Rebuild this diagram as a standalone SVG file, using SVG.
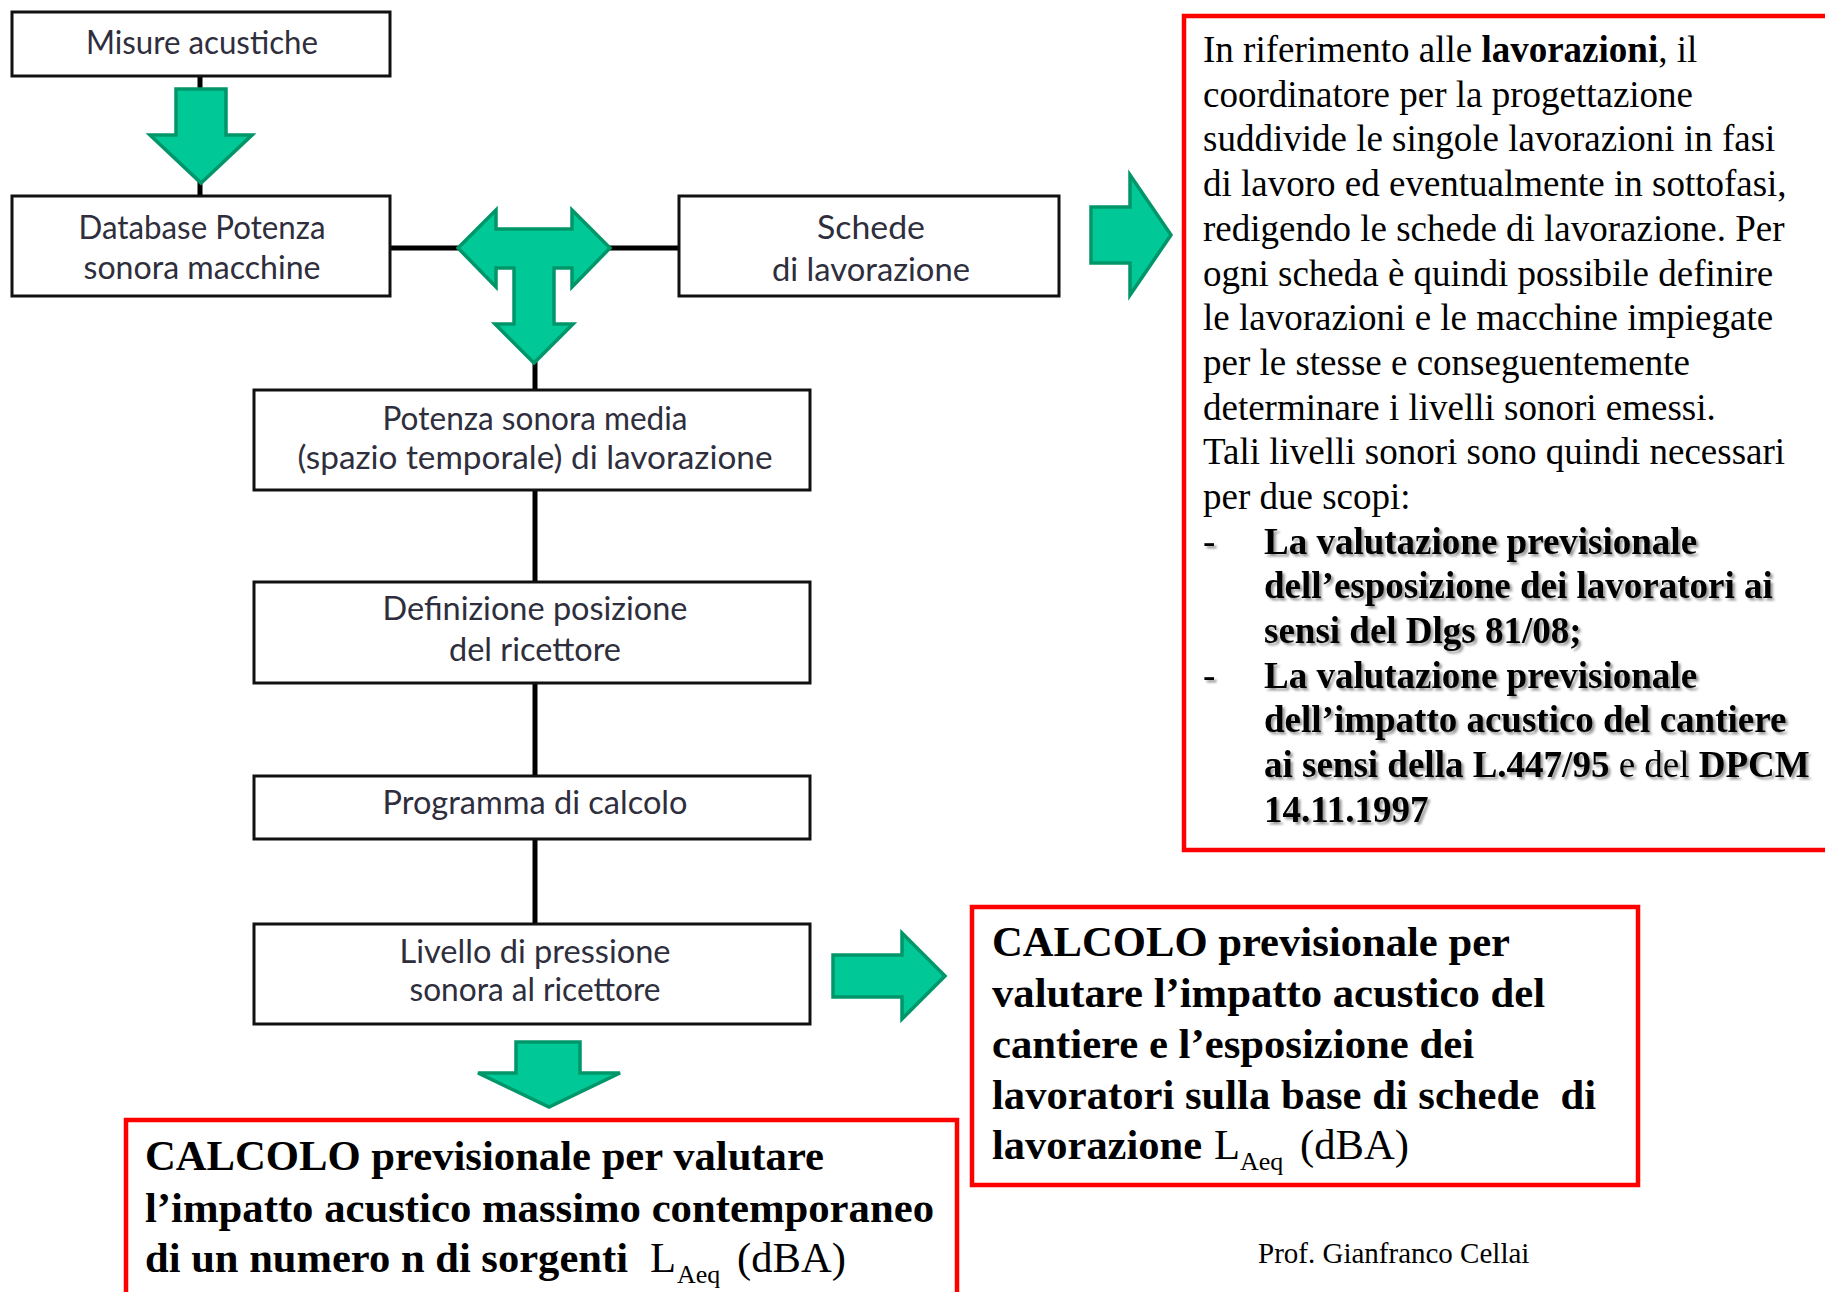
<svg xmlns="http://www.w3.org/2000/svg" width="1825" height="1292" viewBox="0 0 1825 1292">
<defs>
<style>
.box{fill:#fff;stroke:#111;stroke-width:3}
.lbl{font-family:Lato,"Open Sans","Liberation Sans",sans-serif;fill:#2e2e3c;text-anchor:middle}
.l1{font-size:33px}
.l2{font-size:32px}
.conn{stroke:#000;stroke-width:5;fill:none}
.arr{fill:#00c896;stroke:#00966a;stroke-width:3.5;stroke-linejoin:miter}
.red{fill:#fff;stroke:#ff0000;stroke-width:4.5}
.tx{font-family:"Liberation Serif","Times New Roman",serif;fill:#000}
.t37{font-size:37px}
.t42{font-size:42.6px;font-weight:bold}
.b{font-weight:bold}
.n{font-weight:normal}
</style>
<filter id="sh" x="-5%" y="-20%" width="110%" height="150%">
<feDropShadow dx="2.5" dy="2.5" stdDeviation="1.2" flood-color="#000" flood-opacity="0.4"/>
</filter>
</defs>
<rect width="1825" height="1292" fill="#fff"/>

<g id="connectors">
<line class="conn" x1="200" y1="76" x2="200" y2="92" stroke-width="4"/>
<line class="conn" x1="200" y1="180" x2="200" y2="196" stroke-width="4"/>
<line class="conn" x1="390" y1="248" x2="460" y2="248"/>
<line class="conn" x1="608" y1="248" x2="679" y2="248"/>
<line class="conn" x1="535" y1="360" x2="535" y2="390"/>
<line class="conn" x1="535" y1="490" x2="535" y2="582"/>
<line class="conn" x1="535" y1="683" x2="535" y2="776"/>
<line class="conn" x1="535" y1="839" x2="535" y2="924"/>
</g>

<g id="arrows">
<path class="arr" d="M176,89 L226,89 L226,135 L252,135 L201,183 L150,135 L176,135 Z"/>
<path class="arr" d="M458,248 L496,210 L496,229 L572,229 L572,210 L610,248 L572,287 L572,268 L554,268 L554,324 L573,324 L534,363 L495,324 L514,324 L514,268 L496,268 L496,287 Z"/>
<path class="arr" d="M1091,207 L1130,207 L1130,175 L1171,235 L1130,295 L1130,263 L1091,263 Z"/>
<path class="arr" d="M833,955 L902,955 L902,933 L945,976 L902,1019 L902,997 L833,997 Z"/>
<path class="arr" d="M516,1042 L580,1042 L580,1073 L620,1073 L549,1107 L478,1073 L516,1073 Z"/>
</g>

<g id="n1">
<rect class="box" x="12" y="12" width="378" height="64"/>
<text class="lbl l1" x="202" y="54" textLength="232" lengthAdjust="spacingAndGlyphs">Misure acustiche</text>
</g>
<g id="n2">
<rect class="box" x="12" y="196" width="378" height="100"/>
<text class="lbl l1" x="202" y="239" textLength="247" lengthAdjust="spacingAndGlyphs">Database Potenza</text>
<text class="lbl l1" x="202" y="279" textLength="237" lengthAdjust="spacingAndGlyphs">sonora macchine</text>
</g>
<g id="n3">
<rect class="box" x="679" y="196" width="380" height="100"/>
<text class="lbl l1" x="871" y="239" textLength="108" lengthAdjust="spacingAndGlyphs">Schede</text>
<text class="lbl l1" x="871" y="281" textLength="198" lengthAdjust="spacingAndGlyphs">di lavorazione</text>
</g>
<g id="n4">
<rect class="box" x="254" y="390" width="556" height="100"/>
<text class="lbl l2" x="535" y="430" textLength="305" lengthAdjust="spacingAndGlyphs">Potenza sonora media</text>
<text class="lbl l2" x="535" y="469" textLength="475" lengthAdjust="spacingAndGlyphs">(spazio temporale) di lavorazione</text>
</g>
<g id="n5">
<rect class="box" x="254" y="582" width="556" height="101"/>
<text class="lbl l2" x="535" y="620" textLength="305" lengthAdjust="spacingAndGlyphs">Definizione posizione</text>
<text class="lbl l2" x="535" y="661" textLength="172" lengthAdjust="spacingAndGlyphs">del ricettore</text>
</g>
<g id="n6">
<rect class="box" x="254" y="776" width="556" height="63"/>
<text class="lbl l2" x="535" y="814" textLength="305" lengthAdjust="spacingAndGlyphs">Programma di calcolo</text>
</g>
<g id="n7">
<rect class="box" x="254" y="924" width="556" height="100"/>
<text class="lbl l2" x="535" y="963" textLength="271" lengthAdjust="spacingAndGlyphs">Livello di pressione</text>
<text class="lbl l2" x="535" y="1001" textLength="251" lengthAdjust="spacingAndGlyphs">sonora al ricettore</text>
</g>

<g id="note-right">
<rect class="red" x="1184" y="16" width="700" height="834" stroke-width="5"/>
<g class="tx t37">
<text x="1203" y="62">In riferimento alle <tspan class="b">lavorazioni</tspan>, il</text>
<text x="1203" y="106.5">coordinatore per la progettazione</text>
<text x="1203" y="151">suddivide le singole lavorazioni in fasi</text>
<text x="1203" y="196">di lavoro ed eventualmente in sottofasi,</text>
<text x="1203" y="241">redigendo le schede di lavorazione. Per</text>
<text x="1203" y="285.5">ogni scheda è quindi possibile definire</text>
<text x="1203" y="330">le lavorazioni e le macchine impiegate</text>
<text x="1203" y="375">per le stesse e conseguentemente</text>
<text x="1203" y="419.5">determinare i livelli sonori emessi.</text>
<text x="1203" y="464">Tali livelli sonori sono quindi necessari</text>
<text x="1203" y="509">per due scopi:</text>
<g filter="url(#sh)">
<text x="1203" y="553.5">-</text>
<text x="1264" y="553.5" class="b">La valutazione previsionale</text>
<text x="1264" y="598" class="b">dell’esposizione dei lavoratori ai</text>
<text x="1264" y="643" class="b">sensi del Dlgs 81/08;</text>
<text x="1203" y="687.5">-</text>
<text x="1264" y="687.5" class="b">La valutazione previsionale</text>
<text x="1264" y="732" class="b">dell’impatto acustico del cantiere</text>
<text x="1264" y="777"><tspan class="b">ai sensi della L.447/95</tspan> e del <tspan class="b">DPCM</tspan></text>
<text x="1264" y="821.5" class="b">14.11.1997</text>
</g>
</g>
</g>

<g id="note-bottom-right">
<rect class="red" x="972" y="907" width="666" height="278"/>
<g class="tx t42">
<text x="992" y="956" textLength="518" lengthAdjust="spacingAndGlyphs">CALCOLO previsionale per</text>
<text x="992" y="1007" textLength="553" lengthAdjust="spacingAndGlyphs">valutare l’impatto acustico del</text>
<text x="992" y="1057.5" textLength="482" lengthAdjust="spacingAndGlyphs">cantiere e l’esposizione dei</text>
<text x="992" y="1108.5" xml:space="preserve" textLength="604" lengthAdjust="spacingAndGlyphs">lavoratori sulla base di schede  di</text>
<text x="992" y="1159"><tspan textLength="210" lengthAdjust="spacingAndGlyphs">lavorazione</tspan><tspan class="n" x="1214">L</tspan><tspan class="n" font-size="26" x="1240" dy="11">Aeq</tspan><tspan class="n" x="1300" dy="-11">(dBA)</tspan></text>
</g>
</g>

<g id="note-bottom-left">
<rect class="red" x="126" y="1120" width="831" height="200"/>
<g class="tx t42">
<text x="145" y="1170" textLength="679" lengthAdjust="spacingAndGlyphs">CALCOLO previsionale per valutare</text>
<text x="145" y="1222" textLength="789" lengthAdjust="spacingAndGlyphs">l’impatto acustico massimo contemporaneo</text>
<text x="145" y="1272"><tspan textLength="483" lengthAdjust="spacingAndGlyphs">di un numero n di sorgenti</tspan><tspan class="n" x="650">L</tspan><tspan class="n" font-size="26" x="677" dy="11">Aeq</tspan><tspan class="n" x="737" dy="-11">(dBA)</tspan></text>
</g>
</g>

<text id="author" class="tx" x="1258" y="1263" font-size="29">Prof. Gianfranco Cellai</text>
</svg>
